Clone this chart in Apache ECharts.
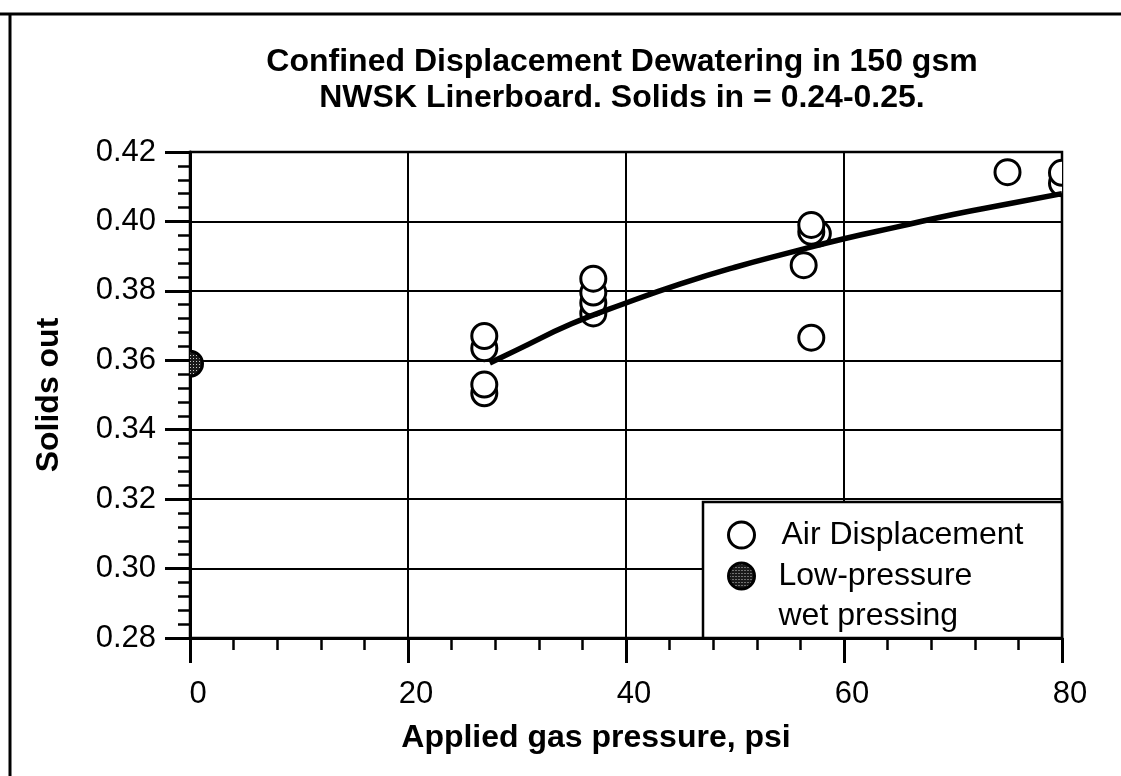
<!DOCTYPE html>
<html><head><meta charset="utf-8">
<script src="https://cdn.jsdelivr.net/npm/echarts@6/dist/echarts.min.js"></script>
<style>html,body{margin:0;padding:0;background:#fff}#c{width:1121px;height:776px}</style>
</head><body><div id="c"></div>
<script>
// ---- data ----
const xAxisMin = 0, xAxisMax = 80, xAxisStep = 20;
const yAxisMin = 0.28, yAxisMax = 0.42, yAxisStep = 0.02;

// Air displacement (hollow circles)
const airPressure = [27, 27, 27, 27, 37, 37, 37, 37, 57, 56.3, 57.6, 57, 57, 75, 80, 80];
const airSolids   = [0.3505, 0.353, 0.3635, 0.367, 0.3735, 0.3765, 0.3795, 0.3835, 0.3665, 0.3874, 0.3965, 0.397, 0.399, 0.4142, 0.411, 0.414];

// Low-pressure wet pressing (filled circle)
const wetPressure = [0];
const wetSolids   = [0.359];

// fitted curve
const fitPressure = [27.5, 30, 35, 40, 45, 50, 55, 60, 65, 70, 75, 80];
const fitSolids   = [0.3592, 0.363, 0.3705, 0.3765, 0.382, 0.3868, 0.391, 0.395, 0.3985, 0.402, 0.405, 0.408];

const titleText = 'Confined Displacement Dewatering in 150 gsm\nNWSK Linerboard. Solids in = 0.24-0.25.';
const xName = 'Applied gas pressure, psi';
const yName = 'Solids out';
const airName = 'Air Displacement';
const wetName = 'Low-pressure\nwet pressing';

// ---- styling ----
const FF = '"Liberation Sans", Arial, Helvetica, sans-serif';
const FS = 31;

const pc = document.createElement('canvas'); pc.width = 3; pc.height = 3;
const g2 = pc.getContext('2d');
g2.fillStyle = '#1a1a1a'; g2.fillRect(0, 0, 3, 3);
g2.fillStyle = '#c8c8c8'; g2.fillRect(1, 1, 1, 1);
const stipple = { image: pc, repeat: 'repeat' };

function zip(a, b) { return a.map((v, i) => [v, b[i]]); }

function circleRenderer(fill) {
  return function (params, api) {
    const p = api.coord([api.value(0), api.value(1)]);
    return { type: 'circle', shape: { cx: p[0], cy: p[1], r: 12.5 },
      style: { fill: fill, stroke: '#000', lineWidth: 3 } };
  };
}

const chart = echarts.init(document.getElementById('c'));
chart.setOption({
  backgroundColor: '#fff',
  animation: false,
  title: {
    text: titleText, left: 622, top: 44, textAlign: 'center', padding: 0,
    textStyle: { fontFamily: FF, fontSize: 32, fontWeight: 'bold', color: '#000', lineHeight: 36 }
  },
  grid: { left: 190, top: 152, right: 59, bottom: 138, show: true, borderColor: '#000', borderWidth: 2.5, backgroundColor: 'transparent' },
  xAxis: {
    type: 'value', min: xAxisMin, max: xAxisMax, interval: xAxisStep,
    name: xName, nameLocation: 'middle', nameGap: 84,
    nameTextStyle: { fontFamily: FF, fontSize: 32, fontWeight: 'bold', color: '#000', padding: [0, 60, 0, 0] },
    axisLine: { show: true, lineStyle: { color: '#000', width: 3 } },
    axisTick: { show: true, length: 25, lineStyle: { color: '#000', width: 3 } },
    minorTick: { show: true, splitNumber: 5, length: 12, lineStyle: { color: '#000', width: 2.5 } },
    splitLine: { show: true, lineStyle: { color: '#000', width: 2 } },
    axisLabel: { margin: 41, fontFamily: FF, fontSize: FS, color: '#000', padding: [0, 0, 0, 16] }
  },
  yAxis: {
    type: 'value', min: yAxisMin, max: yAxisMax, interval: yAxisStep,
    name: yName, nameLocation: 'middle', nameGap: 125,
    nameTextStyle: { fontFamily: FF, fontSize: 32, fontWeight: 'bold', color: '#000' },
    axisLine: { show: true, lineStyle: { color: '#000', width: 3 } },
    axisTick: { show: true, length: 25, lineStyle: { color: '#000', width: 3 } },
    minorTick: { show: true, splitNumber: 5, length: 12, lineStyle: { color: '#000', width: 2.5 } },
    splitLine: { show: true, lineStyle: { color: '#000', width: 2 } },
    axisLabel: { margin: 34, fontFamily: FF, fontSize: FS, color: '#000', formatter: v => v.toFixed(2) }
  },
  legend: [
    { data: [{ name: airName, icon: 'circle', itemStyle: { color: '#fff', borderColor: '#000', borderWidth: 3 } }],
      left: 727, top: 519, padding: 0, itemWidth: 26, itemHeight: 26, selectedMode: false, z: 10,
      textStyle: { fontFamily: FF, fontSize: 32, color: '#000', lineHeight: 26, padding: [0, 0, 0, 22] } },
    { data: [{ name: wetName, icon: 'circle', itemStyle: { color: stipple, borderColor: '#000', borderWidth: 3 } }],
      left: 727, top: 516, padding: 0, itemWidth: 26, itemHeight: 26, selectedMode: false, z: 10,
      formatter: n => ' \n' + n,
      textStyle: { fontFamily: FF, fontSize: 32, color: '#000', lineHeight: 40, padding: [0, 0, 0, 19] } }
  ],
  graphic: [
    { type: 'rect', z: 5, shape: { x: 703, y: 502, width: 359, height: 136 }, style: { fill: '#fff', stroke: '#000', lineWidth: 2.5 } },
    { type: 'line', z: 5, shape: { x1: 0, y1: 14, x2: 1121, y2: 14 }, style: { stroke: '#000', lineWidth: 3 } },
    { type: 'line', z: 5, shape: { x1: 10, y1: 14, x2: 10, y2: 776 }, style: { stroke: '#000', lineWidth: 3 } }
  ],
  series: [
    { name: airName, type: 'custom', clip: true, z: 2, data: zip(airPressure, airSolids), renderItem: circleRenderer('#fff'),
      itemStyle: { color: '#fff', borderColor: '#000' } },
    { name: wetName, type: 'custom', clip: true, z: 2, data: zip(wetPressure, wetSolids), renderItem: circleRenderer(stipple),
      itemStyle: { color: '#333', borderColor: '#000' } },
    { name: 'fit', type: 'line', z: 3, smooth: true, showSymbol: false, symbol: 'none', clip: true,
      data: zip(fitPressure, fitSolids), lineStyle: { color: '#000', width: 5.5 } }
  ]
});
</script></body></html>
